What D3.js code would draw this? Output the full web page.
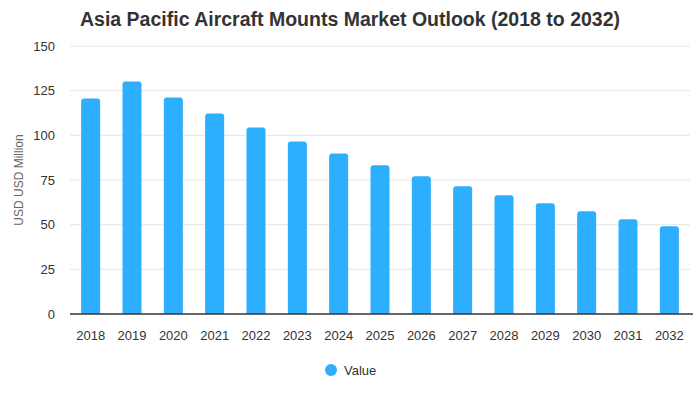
<!DOCTYPE html>
<html>
<head>
<meta charset="utf-8">
<script src="https://cdn.jsdelivr.net/npm/d3@7"></script>
<style>
  body { margin: 0; background: #fff; }
  text { font-family: "Liberation Sans", Arial, sans-serif; }
</style>
</head>
<body>
<div id="chart"></div>
<script>
const years = ["2018", "2019", "2020", "2021", "2022", "2023", "2024", "2025",
    "2026", "2027", "2028", "2029", "2030", "2031", "2032"];
const values = [120.6, 130.1, 121.2, 112.2, 104.4, 96.6, 89.9, 83.2,
    77.1, 71.5, 66.4, 62.0, 57.5, 53.0, 49.1];
const yTicks = [0, 25, 50, 75, 100, 125, 150];

const WIDTH = 700;
const HEIGHT = 400;
const margin = { top: 46, right: 10, bottom: 86, left: 70 };
const color = "#2eaefe";

const svg = d3.select("#chart").append("svg")
    .attr("width", WIDTH)
    .attr("height", HEIGHT);

const x = d3.scaleBand()
    .domain(years)
    .range([margin.left, WIDTH - margin.right])
    .paddingInner(0.54)
    .paddingOuter(0.27);

const y = d3.scaleLinear()
    .domain([0, 150])
    .range([HEIGHT - margin.bottom, margin.top]);

// gridlines
svg.append("g")
    .selectAll("line")
    .data(yTicks.slice(1))
    .join("line")
    .attr("x1", margin.left)
    .attr("x2", WIDTH - margin.right)
    .attr("y1", d => y(d))
    .attr("y2", d => y(d))
    .attr("stroke", "#e6e6e6")
    .attr("stroke-width", 1);

// y axis labels
const yAxis = d3.axisLeft(y).tickValues(yTicks).tickSize(0).tickPadding(15);
svg.append("g")
    .attr("transform", "translate(" + margin.left + ",0)")
    .call(yAxis)
    .call(g => g.select(".domain").remove())
    .call(g => g.selectAll("text")
        .attr("font-size", 13)
        .attr("fill", "#333")
        .attr("font-family", "Liberation Sans, Arial, sans-serif"));

// bars with rounded tops
const r = 3;
svg.append("g")
    .selectAll("path")
    .data(values)
    .join("path")
    .attr("fill", color)
    .attr("d", (d, i) => {
        const x0 = x(years[i]), w = x.bandwidth();
        const y0 = y(d), y1 = y(0);
        return "M" + x0 + "," + y1 +
            "V" + (y0 + r) +
            "Q" + x0 + "," + y0 + " " + (x0 + r) + "," + y0 +
            "H" + (x0 + w - r) +
            "Q" + (x0 + w) + "," + y0 + " " + (x0 + w) + "," + (y0 + r) +
            "V" + y1 + "Z";
    });

// x axis
const xAxis = d3.axisBottom(x).tickSize(0).tickPadding(17);
svg.append("g")
    .attr("transform", "translate(0," + y(0) + ")")
    .call(xAxis)
    .call(g => g.select(".domain").attr("stroke", "#333").attr("stroke-width", 1.5)
        .attr("d", "M" + margin.left + ",0H" + (WIDTH - margin.right + 3)))
    .call(g => g.selectAll("text")
        .attr("font-size", 13)
        .attr("fill", "#333")
        .attr("font-family", "Liberation Sans, Arial, sans-serif"));

// y title
svg.append("text")
    .attr("transform", "translate(23," + ((margin.top + y(0)) / 2) + ") rotate(-90)")
    .attr("text-anchor", "middle")
    .attr("font-size", 12)
    .attr("fill", "#666")
    .text("USD USD Million");

// title
svg.append("text")
    .attr("x", 80)
    .attr("y", 26)
    .attr("font-size", 19.5)
    .attr("font-weight", "bold")
    .attr("fill", "#333")
    .text("Asia Pacific Aircraft Mounts Market Outlook (2018 to 2032)");

// legend
const legend = svg.append("g").attr("transform", "translate(331,370)");
legend.append("circle").attr("r", 6).attr("fill", color);
legend.append("text")
    .attr("x", 13)
    .attr("y", 5)
    .attr("font-size", 13)
    .attr("fill", "#333")
    .text("Value");
</script>
</body>
</html>
